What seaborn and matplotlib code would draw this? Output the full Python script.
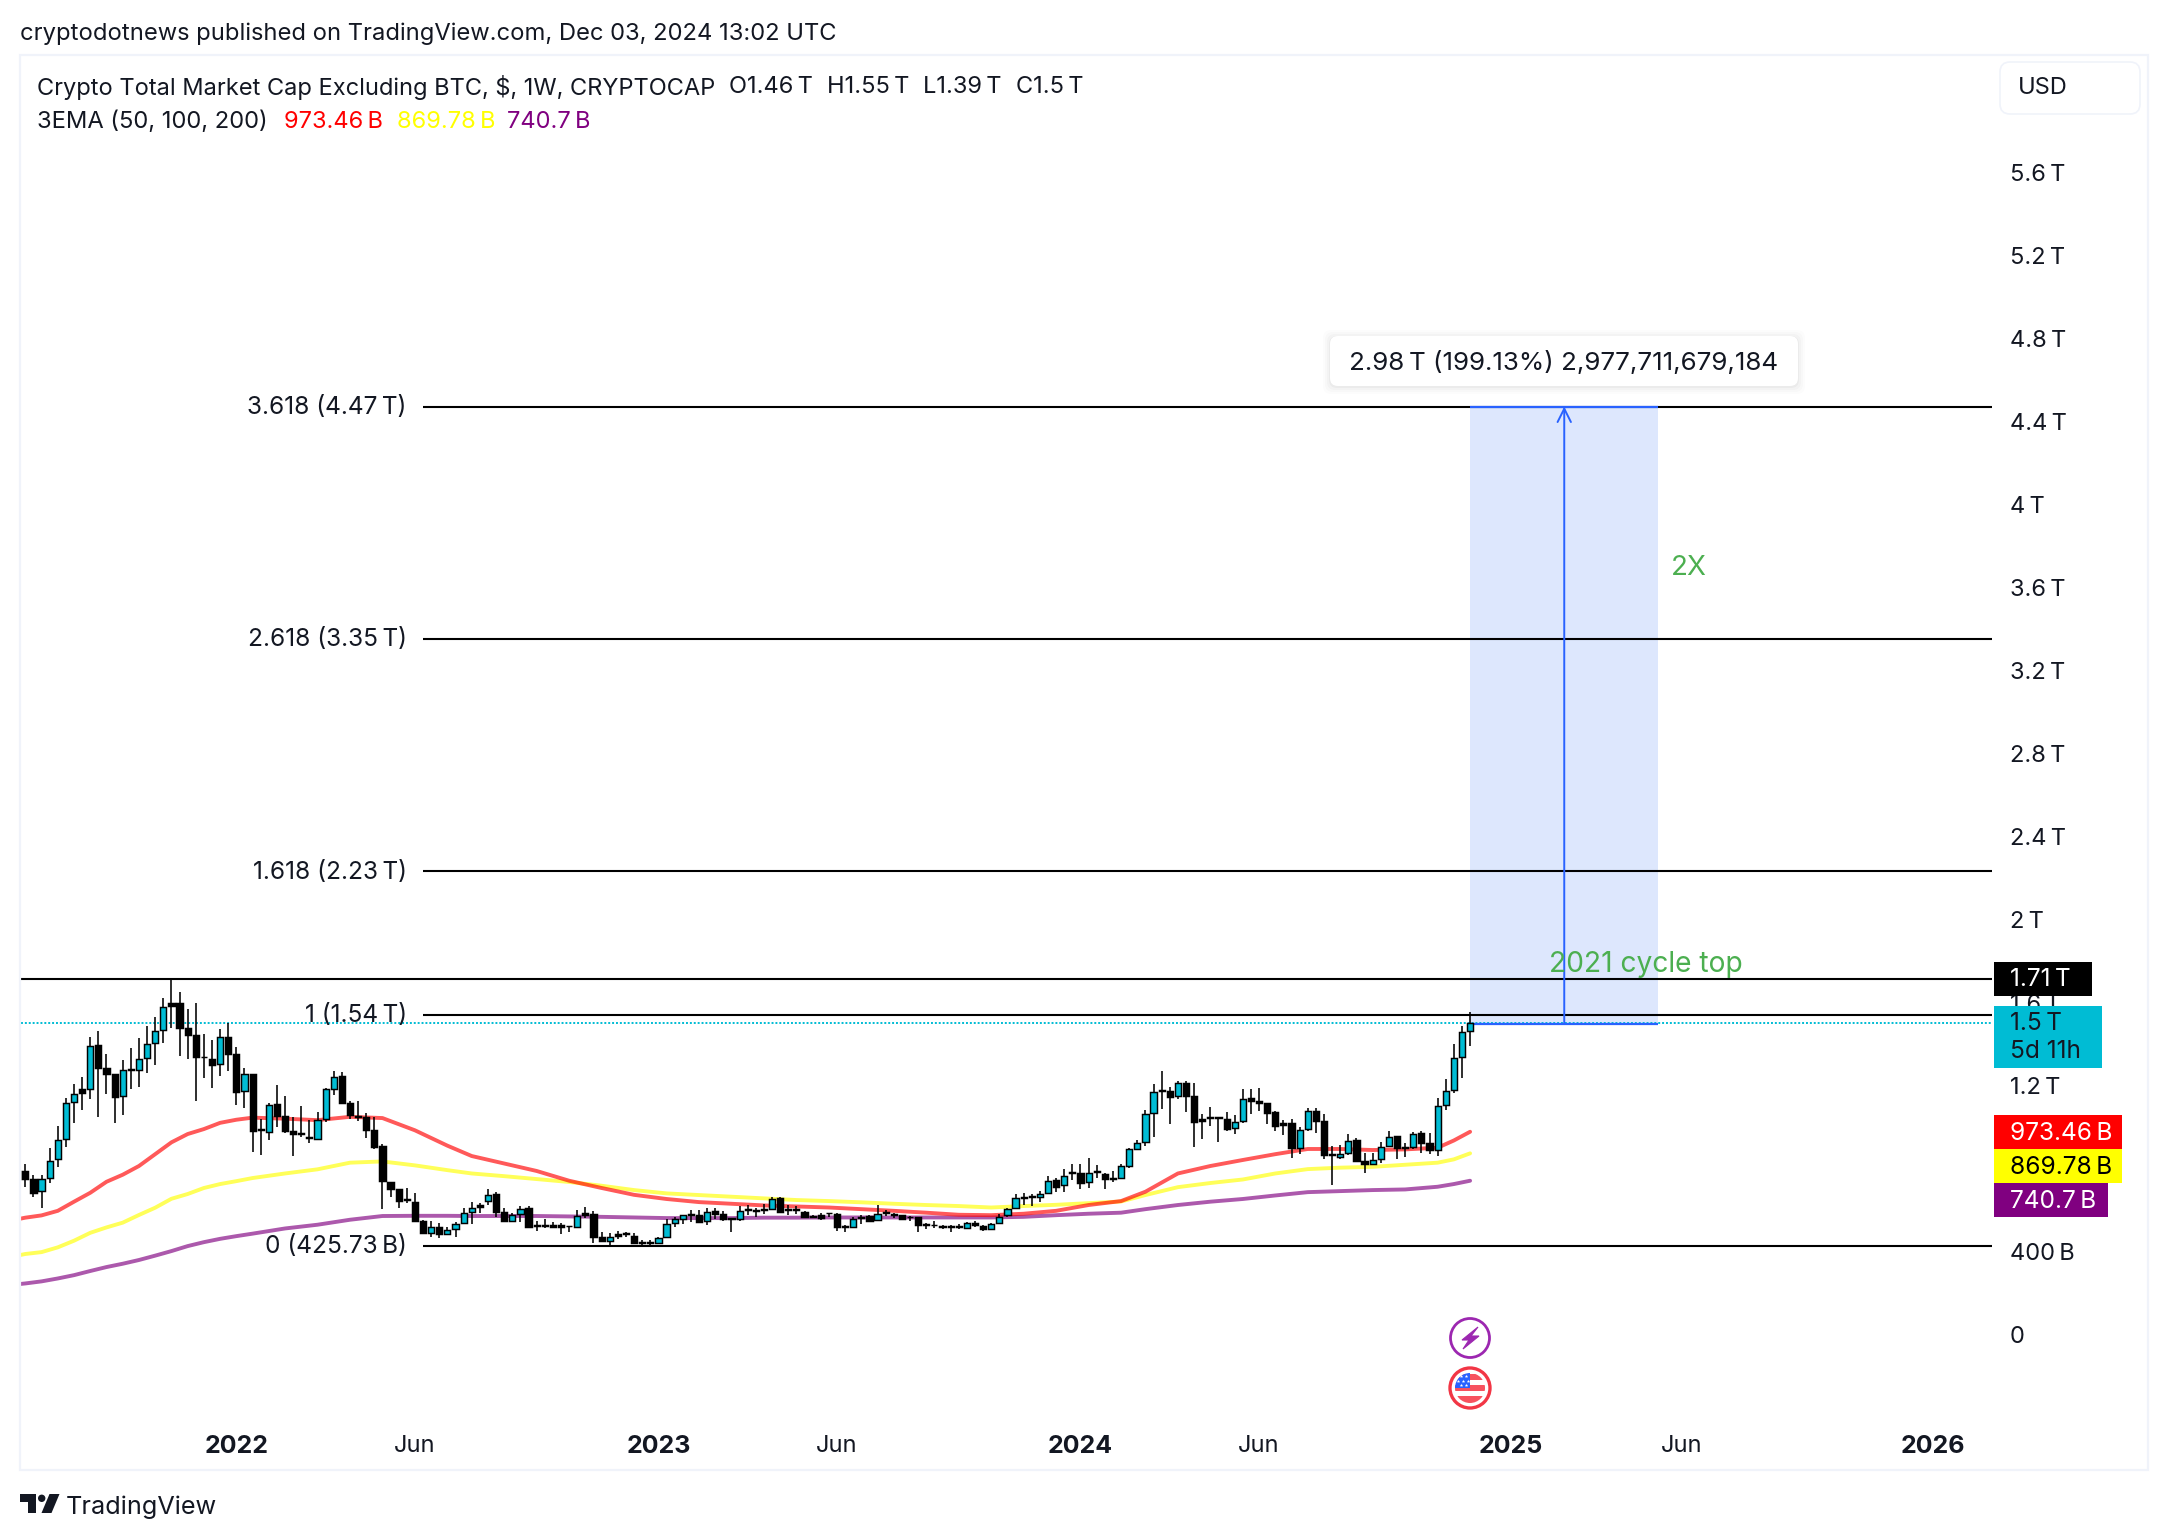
import numpy as np
import matplotlib
matplotlib.use("Agg")
import matplotlib.pyplot as plt
from matplotlib.patches import Rectangle, FancyBboxPatch, Circle, Polygon
import seaborn as sns

# weekly candles, values in trillions of USD
open_t = [
    .784, .784, .745, .688, .752, .842, .941, 1.118, 1.179, 1.182,
    1.394, 1.280, 1.253, 1.147, 1.277, 1.272, 1.330, 1.404, 1.465, 1.594,
    1.594, 1.473, 1.443, 1.337, 1.328, 1.301, 1.433, 1.348, 1.173, 1.251,
    .986, .973, 1.107, 1.052, .980, .967, .949, .941, 1.035, 1.182,
    1.242, 1.116, 1.052, 1.047, .982, .906, .734, .697, .649, .638,
    .545, .488, .517, .482, .508, .533, .586, .622, .639, .673,
    .590, .545, .578, .606, .527, .527, .527, .525, .522, .517,
    .582, .577, .466, .447, .480, .485, .475, .445, .445, .437,
    .466, .533, .553, .577, .572, .546, .591, .578, .557, .553,
    .601, .598, .604, .604, .655, .601, .601, .586, .570, .575,
    .585, .578, .522, .517, .565, .569, .549, .586, .580, .575,
    .565, .562, .532, .527, .519, .519, .519, .511, .533, .522,
    .506, .537, .572, .607, .662, .665, .659, .680, .741, .718,
    .779, .774, .733, .784, .771, .753, .750, .808, .892, .924,
    1.065, 1.176, 1.171, 1.147, 1.210, 1.145, 1.035, 1.046, 1.046, 1.035,
    .993, 1.027, 1.136, 1.121, 1.112, 1.068, 1.015, 1.015, .896, .986,
    1.076, 1.025, .866, .851, .871, .933, .832, .819, .842, .906,
    .953, .903, .900, .967, .919, .887, 1.102, 1.176, 1.335, 1.46,
]
high_t = [
    .790, .818, .766, .766, .895, 1.002, 1.136, 1.203, 1.240, 1.430,
    1.459, 1.349, 1.253, 1.320, 1.377, 1.425, 1.484, 1.526, 1.622, 1.709,
    1.647, 1.565, 1.594, 1.446, 1.417, 1.468, 1.497, 1.385, 1.280, 1.251,
    1.035, 1.115, 1.198, 1.147, 1.047, 1.099, 1.031, 1.071, 1.186, 1.266,
    1.261, 1.124, 1.121, 1.067, 1.044, .916, .734, .700, .702, .678,
    .549, .546, .533, .517, .541, .606, .638, .633, .697, .683,
    .610, .585, .617, .617, .546, .553, .541, .533, .522, .598,
    .614, .593, .492, .485, .498, .493, .488, .453, .453, .466,
    .553, .562, .575, .598, .598, .610, .610, .593, .557, .617,
    .622, .610, .626, .659, .659, .620, .617, .591, .575, .582,
    .585, .582, .527, .562, .572, .575, .622, .598, .582, .575,
    .569, .565, .533, .546, .524, .527, .530, .540, .543, .525,
    .533, .578, .610, .675, .681, .673, .688, .761, .750, .795,
    .822, .822, .847, .814, .778, .784, .822, .896, .935, 1.080,
    1.205, 1.267, 1.189, 1.219, 1.219, 1.208, 1.063, 1.092, 1.046, 1.068,
    1.055, 1.179, 1.179, 1.184, 1.112, 1.073, 1.031, 1.035, .996, 1.088,
    1.088, 1.059, .906, .911, .962, .943, .871, .874, .924, .977,
    .954, .919, .972, .977, .967, 1.136, 1.227, 1.398, 1.484, 1.55,
]
low_t = [
    .710, .710, .662, .610, .726, .806, .903, 1.015, 1.080, 1.131,
    1.047, 1.157, 1.015, 1.057, 1.182, 1.192, 1.259, 1.296, 1.404, 1.473,
    1.341, 1.324, 1.124, 1.235, 1.187, 1.245, 1.269, 1.104, 1.091, .879,
    .864, .935, .999, .967, .859, .951, .922, .938, 1.023, 1.150,
    1.112, 1.035, 1.025, .945, .893, .601, .662, .610, .630, .541,
    .482, .469, .461, .477, .466, .530, .530, .582, .620, .565,
    .541, .541, .541, .517, .498, .509, .509, .482, .493, .514,
    .557, .437, .447, .429, .456, .469, .434, .429, .429, .437,
    .466, .514, .530, .541, .537, .525, .556, .546, .493, .546,
    .575, .565, .578, .598, .582, .573, .578, .562, .559, .549,
    .562, .498, .493, .514, .530, .540, .546, .569, .559, .549,
    .546, .493, .508, .511, .508, .493, .508, .508, .517, .498,
    .503, .530, .565, .601, .622, .617, .636, .675, .686, .686,
    .742, .700, .702, .753, .700, .733, .747, .798, .887, .908,
    .951, 1.084, 1.012, 1.134, 1.071, .903, .940, 1.002, .925, .980,
    .964, 1.018, 1.063, 1.075, 1.012, .980, .959, .850, .867, .980,
    .970, .842, .718, .845, .863, .829, .778, .816, .826, .900,
    .845, .855, .893, .874, .867, .859, 1.080, 1.163, 1.235, 1.39,
]
close_t = [
    .745, .745, .681, .749, .835, .935, 1.115, 1.157, 1.163, 1.388,
    1.280, 1.251, 1.144, 1.272, 1.271, 1.327, 1.398, 1.462, 1.577, 1.581,
    1.476, 1.443, 1.333, 1.333, 1.298, 1.430, 1.348, 1.169, 1.251, .980,
    .982, 1.104, 1.051, .980, .962, .962, .945, 1.031, 1.179, 1.240,
    1.115, 1.055, 1.047, .982, .903, .736, .697, .643, .644, .545,
    .485, .514, .482, .501, .530, .582, .609, .614, .668, .590,
    .545, .573, .604, .517, .520, .520, .514, .516, .519, .569,
    .575, .466, .447, .466, .472, .480, .440, .440, .440, .464,
    .530, .553, .572, .572, .540, .588, .578, .553, .553, .594,
    .596, .593, .599, .652, .588, .596, .596, .565, .565, .561,
    .582, .517, .517, .553, .561, .546, .578, .582, .575, .553,
    .562, .527, .527, .524, .514, .514, .516, .533, .525, .504,
    .529, .565, .604, .655, .657, .660, .676, .739, .710, .763,
    .774, .729, .778, .779, .745, .749, .808, .890, .922, 1.062,
    1.168, 1.171, 1.144, 1.211, 1.145, 1.023, 1.027, 1.041, 1.041, .990,
    1.020, 1.133, 1.121, 1.115, 1.067, 1.002, 1.007, .895, .983, 1.076,
    1.025, .861, .861, .869, .932, .832, .818, .839, .903, .951,
    .895, .898, .965, .919, .887, 1.100, 1.173, 1.332, 1.457, 1.50,
]

ema_weeks = [0, 1, 3, 5, 7, 9, 11, 13, 15, 17, 19, 21, 23, 25, 27, 29, 33, 37, 41, 45, 49, 53, 56,
             60, 64, 68, 72, 76, 80, 84, 88, 92, 96, 100, 104, 108, 112, 116, 120, 124, 128,
             132, 136, 139, 143, 147, 151, 155, 159, 163, 167, 171, 175, 177, 179]
ema_50 = [.553, .561, .572, .594, .638, .681, .734, .768, .810, .867, .924, .964, .988, 1.018, 1.033,
          1.043, 1.038, 1.031, 1.047, 1.041, .982, .908, .858, .822, .786, .739, .704, .671, .651,
          .636, .628, .620, .615, .610, .602, .594, .585, .575, .573, .580, .594, .622, .641, .686,
          .774, .810, .839, .867, .892, .892, .887, .890, .898, .933, .975]
ema_100 = [.378, .386, .395, .418, .450, .488, .514, .537, .574, .609, .652, .675, .704, .723, .737,
           .752, .774, .794, .826, .832, .813, .790, .774, .761, .747, .733, .715, .694, .678, .670,
           .662, .654, .646, .641, .635, .628, .622, .617, .610, .617, .623, .631, .639, .670, .708,
           .728, .745, .774, .795, .802, .806, .816, .826, .842, .871]
ema_200 = [.240, .244, .254, .268, .284, .304, .323, .339, .357, .378, .400, .424, .443, .459, .472,
           .484, .509, .527, .551, .569, .570, .570, .569, .569, .569, .567, .565, .562, .559, .559,
           .559, .561, .561, .562, .562, .562, .562, .562, .562, .565, .573, .580, .585, .602, .622,
           .638, .651, .668, .684, .689, .694, .697, .710, .723, .739]

fib_levels = [4.47, 3.35, 2.23, 1.54, .42573]
fib_labels = ["3.618 (4.47\u2009T)", "2.618 (3.35\u2009T)", "1.618 (2.23\u2009T)",
              "1 (1.54\u2009T)", "0 (425.73\u2009B)"]
cycle_top = 1.71
last_price = 1.5

# the 800 B label sits under the price tags in the original, so it stays blank
y_ticks = [0, .4, .8, 1.2, 1.6, 2, 2.4, 2.8, 3.2, 3.6, 4, 4.4, 4.8, 5.2, 5.6]
y_labels = ["0", "400\u2009B", "", "1.2\u2009T", "1.6\u2009T", "2\u2009T", "2.4\u2009T", "2.8\u2009T",
            "3.2\u2009T", "3.6\u2009T", "4\u2009T", "4.4\u2009T", "4.8\u2009T", "5.2\u2009T", "5.6\u2009T"]
x_ticks = [27, 49, 79, 101, 131, 153, 184, 205, 236]
x_labels = ["2022", "Jun", "2023", "Jun", "2024", "Jun", "2025", "Jun", "2026"]

TEAL = "#00bcd4"
BLUE = "#2962ff"
GREEN = "#4caf50"
INK = "#131722"

sns.set_theme(style="white")
plt.rcParams['font.family'] = ['Inter', 'DejaVu Sans']

W, H = 2168, 1540
fig = plt.figure(figsize=(W / 100, H / 100), dpi=100, facecolor="white")

# plot pane, everything tied to a price or a week goes here
ax = fig.add_axes([20.7 / W, 1 - 1470 / H, (1992 - 20.7) / W, (1470 - 55) / H])
ax.set_xlim(0.43, 243.3)
ax.set_ylim(-0.655, 6.164)
sns.despine(ax=ax, left=True, bottom=True, right=True, top=True)
ax.set_facecolor("none")

ax.yaxis.tick_right()
ax.set_yticks(y_ticks, y_labels)
ax.set_xticks(x_ticks, x_labels)
ax.tick_params(axis="y", length=0, pad=13, labelsize=17, labelcolor=INK)
ax.tick_params(axis="x", length=0, pad=-25.5, labelsize=17, labelcolor=INK)
for lab, txt in zip(ax.get_xticklabels(), x_labels):
    if txt != "Jun":
        lab.set_fontweight("bold")
        lab.set_fontsize(18)

# projection box
ax.add_patch(Rectangle((179, last_price), 23.2, fib_levels[0] - last_price,
                       facecolor="#dde7fd", edgecolor="none", zorder=1))

sns.lineplot(x=ema_weeks, y=ema_200, color="#800080", alpha=.65, lw=2.8, ax=ax, zorder=2, errorbar=None)
sns.lineplot(x=ema_weeks, y=ema_100, color="#ffff00", alpha=.65, lw=2.8, ax=ax, zorder=2, errorbar=None)
sns.lineplot(x=ema_weeks, y=ema_50, color="#ff0000", alpha=.65, lw=2.8, ax=ax, zorder=2, errorbar=None)

ax.hlines(cycle_top, 0.43, 243.3, color="black", lw=1.5, zorder=3)
ax.hlines(fib_levels, 50, 243.3, color="black", lw=1.5, zorder=3)
ax.axhline(last_price, color=TEAL, lw=1.4, ls=(0, (1, 1)), zorder=3)
for level, label in zip(fib_levels, fib_labels):
    ax.text(48, level - .005, label, ha="right", va="center", fontsize=17.6, color=INK, zorder=3)

ax.hlines([last_price - .004, fib_levels[0]], 179, 202.2, color=BLUE, lw=1.6, zorder=3.5)
ax.annotate("", xy=(190.6, fib_levels[0]), xytext=(190.6, last_price),
            arrowprops=dict(arrowstyle="->", color=BLUE, lw=1.4, mutation_scale=24, shrinkA=0, shrinkB=0),
            zorder=3.5)

# candles
weeks = np.arange(len(open_t))
o = np.array(open_t)
c = np.array(close_t)
body_colors = [TEAL if b >= a else "black" for a, b in zip(o, c)]
ax.vlines(weeks, low_t, high_t, color="black", lw=1.15, zorder=4)
ax.bar(weeks, np.abs(c - o), bottom=np.minimum(o, c), width=.76, color=body_colors,
       edgecolor="black", linewidth=1.05, zorder=5)

ax.text(203.7, 3.69, "2X", color=GREEN, fontsize=20, va="center", ha="left", zorder=6)
ax.text(188.7, 1.78, "2021 cycle top", color=GREEN, fontsize=20.3, va="center", ha="left", zorder=6)

# page furniture in pixel coordinates
top = fig.add_axes([0, 0, 1, 1], zorder=5)
top.set_xlim(0, W)
top.set_ylim(H, 0)
top.axis("off")

top.add_patch(Rectangle((20, 55), 2128, 1415, fill=False, edgecolor="#f0f3fa", lw=1.6))

fs = 17
top.text(20, 34, "cryptodotnews published on TradingView.com, Dec 03, 2024 13:02 UTC", fontsize=17.1,
         color=INK, va="center")
top.text(37, 87, "Crypto Total Market Cap Excluding BTC, $, 1W, CRYPTOCAP", fontsize=fs, color=INK, va="center")
for px, part in zip([729, 827, 923, 1016], ["O1.46\u2009T", "H1.55\u2009T", "L1.39\u2009T", "C1.5\u2009T"]):
    top.text(px, 87, part, fontsize=fs, color=INK, va="center")
top.text(37, 122, "3EMA (50, 100, 200)", fontsize=17.1, color=INK, va="center")
for px, part, col in zip([283.5, 397, 507], ["973.46\u2009B", "869.78\u2009B", "740.7\u2009B"],
                         ["#ff0000", "#ffff00", "#800080"]):
    top.text(px, 122, part, fontsize=fs, color=col, va="center")

top.add_patch(FancyBboxPatch((2004, 66), 132, 44, boxstyle="round,pad=4,rounding_size=10",
                             facecolor="white", edgecolor="#f0f3fa", lw=1.2))
top.text(2018, 88.5, "USD", fontsize=fs, color=INK, va="center")

# price tags on the scale
tags = [(962, 34, 2092, "black", "1.71\u2009T", "white"),
        (1115, 34, 2122, "#ff0000", "973.46\u2009B", "white"),
        (1149, 34, 2122, "#ffff00", "869.78\u2009B", "black"),
        (1183, 34, 2108, "#800080", "740.7\u2009B", "white")]
for y0, h, x1, col, label, tcol in tags:
    top.add_patch(Rectangle((1994, y0), x1 - 1994, h, facecolor=col, edgecolor="none"))
    top.text(2010, y0 + h / 2 + 1, label, fontsize=17.6, color=tcol, va="center")
top.add_patch(Rectangle((1994, 1006), 108, 62, facecolor=TEAL, edgecolor="none"))
top.text(2010, 1024, "1.5\u2009T", fontsize=17.6, color=INK, va="center")
top.text(2010, 1051, "5d 11h", fontsize=17.6, color=INK, va="center")

# tooltip of the measure tool
for grow, alpha in [(7, .01), (5, .015), (3, .02), (1, .03)]:
    top.add_patch(FancyBboxPatch((1336 - grow, 343 - grow), 456 + 2 * grow, 38 + 2 * grow,
                                 boxstyle="round,pad=6,rounding_size=8", facecolor="black",
                                 edgecolor="none", alpha=alpha))
top.add_patch(FancyBboxPatch((1336, 342), 456, 38, boxstyle="round,pad=6,rounding_size=8",
                             facecolor="white", edgecolor="none"))
top.text(1564, 362.5, "2.98\u2009T (199.13%) 2,977,711,679,184", fontsize=18.7, color=INK, ha="center", va="center")

# event badges
top.add_patch(Circle((1470, 1338), 19.5, facecolor="white", edgecolor="#9c27b0", lw=2))
top.add_patch(Polygon([(1478, 1327), (1462, 1340), (1469, 1340), (1463, 1349), (1479, 1336), (1471, 1336)],
                      closed=True, facecolor="#9c27b0", edgecolor="#9c27b0", lw=.8))
top.add_patch(Circle((1470, 1388), 20, facecolor="white", edgecolor="#f23645", lw=2.4))
clip = Circle((1470, 1388), 15, transform=top.transData)
for y0, h in [(1374, 6), (1385, 6), (1396, 8)]:
    top.add_patch(Rectangle((1450, y0), 40, h, facecolor="#f7525f", edgecolor="none", clip_path=clip))
top.add_patch(Rectangle((1450, 1370), 20, 18, facecolor="#2962ff", edgecolor="none", clip_path=clip))
top.scatter([1461, 1466, 1458, 1463, 1468, 1461, 1466], [1376, 1376, 1381, 1381, 1381, 1385, 1385],
            s=7, color="white", linewidths=0, marker="*")

# TradingView logo
logo_col = INK
top.add_patch(Polygon([(20, 1494), (36, 1494), (36, 1513), (27.5, 1513), (27.5, 1501.5), (20, 1501.5)],
                      closed=True, facecolor=logo_col, edgecolor="none"))
top.add_patch(Circle((41.7, 1498.3), 3.7, facecolor=logo_col, edgecolor="none"))
top.add_patch(Polygon([(49.5, 1494), (59.5, 1494), (51.5, 1513), (41.5, 1513)],
                      closed=True, facecolor=logo_col, edgecolor="none"))
top.text(66, 1507.5, "TradingView", fontsize=18.2, color=INK, va="center")

fig.savefig("out.png", dpi=100)
